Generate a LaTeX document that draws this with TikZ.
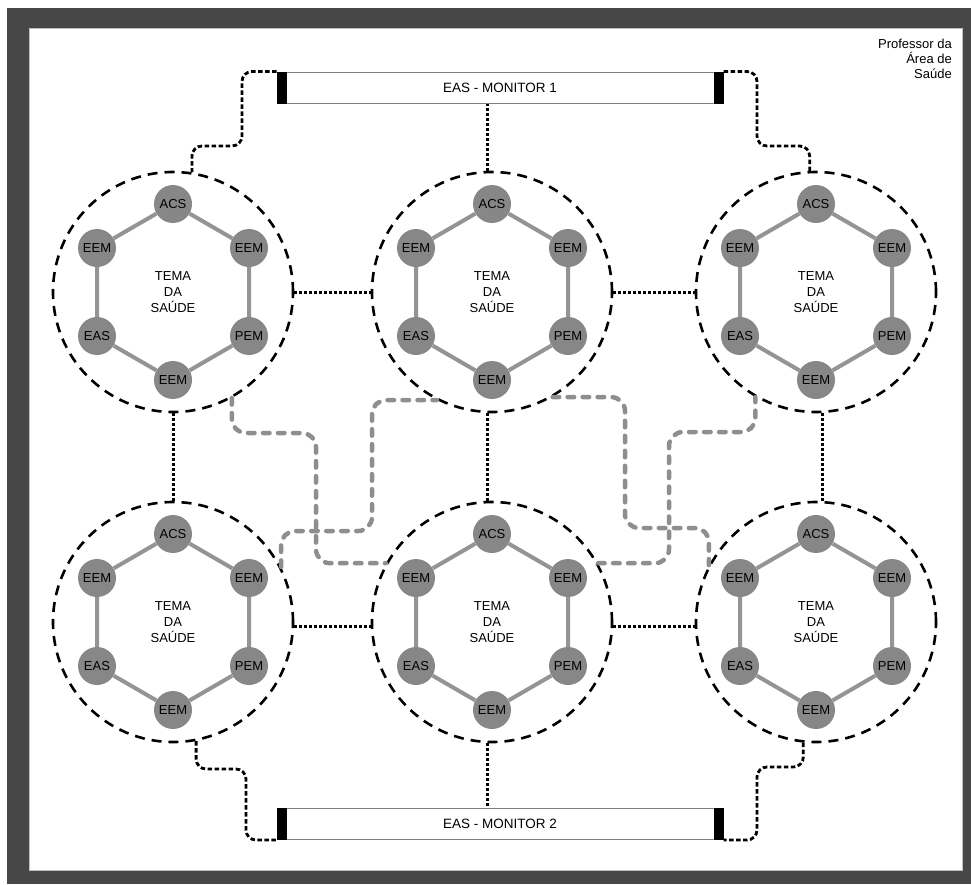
\documentclass[tikz,border=0pt]{standalone}
\usepackage{fontspec}
\setmainfont{Liberation Sans}
\usetikzlibrary{calc}

\definecolor{framegray}{HTML}{474747}
\definecolor{nodegray}{HTML}{878787}
\definecolor{edgegray}{HTML}{949494}
\definecolor{pathgray}{HTML}{8E8E8E}

\tikzset{
  ring/.style={circle, draw=black, line width=2.6pt, dash pattern=on 10pt off 7pt,
    minimum size=240pt, inner sep=0pt, align=center,
    font=\fontsize{13}{16}\selectfont},
  member/.style={circle, fill=nodegray, minimum size=38pt, inner sep=0pt,
    font=\fontsize{13}{15}\selectfont},
  hexedge/.style={draw=edgegray, line width=4pt},
  link/.style={draw=black, line width=3pt, dash pattern=on 2.5pt off 2.5pt},
  feed/.style={draw=black, line width=2.8pt, dash pattern=on 4.5pt off 2.5pt,
    rounded corners=10pt},
  crossing/.style={draw=pathgray, line width=4.5pt, line cap=round,
    dash pattern=on 6.5pt off 8.5pt, rounded corners=14pt},
  monitor/.style={draw=gray, fill=white, line width=1pt, minimum width=446pt,
    minimum height=31pt, inner sep=0pt, font=\fontsize{13.5}{16}\selectfont},
  endcap/.style={fill=black},
}

% One working group: dashed ring with the theme, six members on a hexagon
\newcommand\healthcell[3]{%
  \begin{scope}[shift={(#2,#3)}]
    \node[ring] (#1) at (0,0) {TEMA\\DA\\SAÚDE};
    \node[member] (#1a) at (0,-88) {ACS};
    \node[member] (#1b) at (76,-44) {EEM};
    \node[member] (#1c) at (76,44) {PEM};
    \node[member] (#1d) at (0,88) {EEM};
    \node[member] (#1e) at (-76,44) {EAS};
    \node[member] (#1f) at (-76,-44) {EEM};
    \draw[hexedge] (#1a) -- (#1b) (#1b) -- (#1c) (#1c) -- (#1d)
                   (#1d) -- (#1e) (#1e) -- (#1f) (#1f) -- (#1a);
  \end{scope}%
}

\begin{document}
\begin{tikzpicture}[x=1pt, y=-1pt]
  \useasboundingbox (0,0) rectangle (971,884);
  \fill[white] (0,0) rectangle (971,884);

  % frame
  \fill[framegray] (7,8) rectangle (971,884);
  \fill[white] (29,28) rectangle (962,870);
  \draw[gray!50, line width=0.8pt] (29,28) rectangle (962,870);

  \node[anchor=north east, align=right, inner sep=0pt,
        font=\fontsize{13}{15}\selectfont] (prof) at (952,39)
        {Professor da\\Área de\\Saúde};

  % monitors
  \node[monitor] (mon1) at (500,87.5) {EAS - MONITOR 1};
  \fill[endcap] (mon1.north west) rectangle ([xshift=10pt]mon1.south west);
  \fill[endcap] (mon1.north east) rectangle ([xshift=-10pt]mon1.south east);
  \node[monitor] (mon2) at (500,824) {EAS - MONITOR 2};
  \fill[endcap] (mon2.north west) rectangle ([xshift=10pt]mon2.south west);
  \fill[endcap] (mon2.north east) rectangle ([xshift=-10pt]mon2.south east);

  % groups
  \healthcell{c1}{173}{292}
  \healthcell{c2}{492}{292}
  \healthcell{c3}{816}{292}
  \healthcell{c4}{173}{622}
  \healthcell{c5}{492}{622}
  \healthcell{c6}{816}{622}

  % links between neighbouring groups
  \draw[link] (c1.east) -- (c2.west);
  \draw[link] (c2.east) -- (c3.west);
  \draw[link] (c4.-2) -- (c5.182);
  \draw[link] (c5.-2) -- (c6.182);
  \draw[link] (c1.south) -- (c4.north);
  \draw[link] (c2.-92) -- (c5.92);
  \draw[link] (c3.-87) -- (c6.87);
  \draw[link] (c2.92) -- (c2.92 |- mon1.south);
  \draw[link] (c5.-92) -- (c5.-92 |- mon2.north);

  % monitors to the corner groups
  \draw[feed] (mon1.north west) -| (242,146) -| (c1.81);
  \draw[feed] (mon1.north east) -| (757,146) -| (c3.93);
  \draw[feed] (c4.-79) |- (246,769) |- (mon2.south west);
  \draw[feed] (c6.-96) |- (757,767) |- (mon2.south east);

  % crossing exchanges between the rows
  \draw[crossing] (c1.-61) |- (316,433) |- (c5.151);
  \draw[crossing] (c4.27) |- (372,531) |- (c2.-117);
  \draw[crossing] (c2.-60) -| (625,528) -| (c6.152);
  \draw[crossing] (c5.29) -| (669,432) -| (c3.-120);
\end{tikzpicture}
\end{document}
